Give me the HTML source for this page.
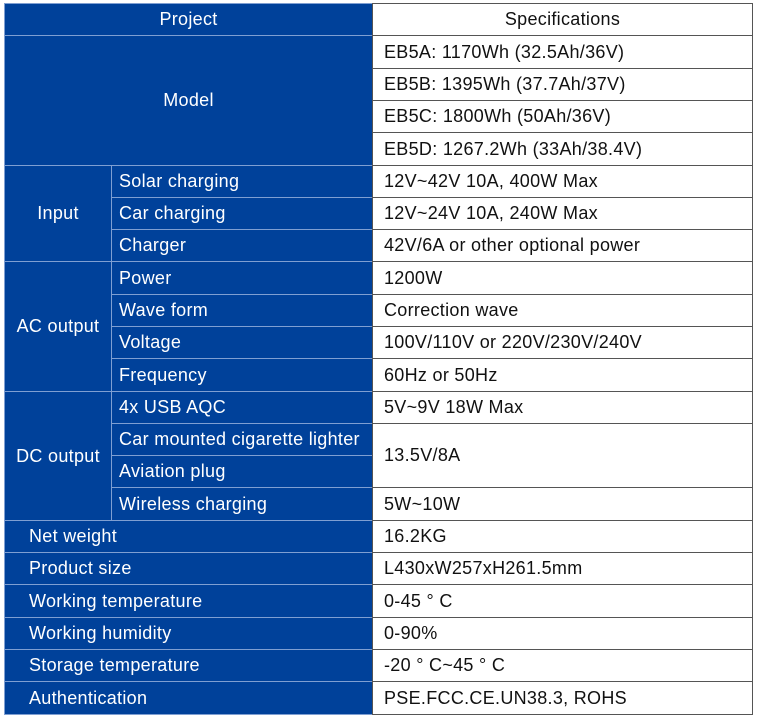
<!DOCTYPE html><html><head><style>
body{margin:0;width:757px;height:719px;background:#fff;position:relative;overflow:hidden;font-family:"Liberation Sans",sans-serif;font-size:18px;letter-spacing:0.3px}
.b{position:absolute;background:#00419a;color:#fff;box-sizing:border-box;border:1px solid #7f9fd2;display:flex;align-items:center}
.w{position:absolute;background:#fff;color:#111;box-sizing:border-box;border:1px solid #555;display:flex;align-items:center;padding-left:11px}
.c{justify-content:center;padding:0}
.l{padding-left:7px}
</style></head><body>
<div id="r"></div>
<script>
var h=32.3,t=3;
function y(i){return Math.round(t+i*h);}
var s='';
function B(x,w,i,n,txt,cls){s+='<div class="b '+cls+'" style="left:'+x+'px;width:'+w+'px;top:'+y(i)+'px;height:'+(y(i+n)-y(i)+1)+'px">'+txt+'</div>';}
function W(i,n,txt,cls){s+='<div class="w '+(cls||'')+'" style="left:372px;width:381px;top:'+y(i)+'px;height:'+(y(i+n)-y(i)+1)+'px">'+txt+'</div>';}
B(4,369,0,1,'Project','c');W(0,1,'Specifications','c');
B(4,369,1,4,'Model','c');
['EB5A: 1170Wh (32.5Ah/36V)','EB5B: 1395Wh (37.7Ah/37V)','EB5C: 1800Wh (50Ah/36V)','EB5D: 1267.2Wh (33Ah/38.4V)'].forEach(function(v,k){W(1+k,1,v);});
B(4,108,5,3,'Input','c');
var sub=[['Solar charging','12V~42V 10A, 400W Max'],['Car charging','12V~24V 10A, 240W Max'],['Charger','42V/6A or other optional power']];
sub.forEach(function(v,k){B(111,262,5+k,1,v[0],'l');W(5+k,1,v[1]);});
B(4,108,8,4,'AC output','c');
[['Power','1200W'],['Wave form','Correction wave'],['Voltage','100V/110V or 220V/230V/240V'],['Frequency','60Hz or 50Hz']].forEach(function(v,k){B(111,262,8+k,1,v[0],'l');W(8+k,1,v[1]);});
B(4,108,12,4,'DC output','c');
['4x USB AQC','Car mounted cigarette lighter','Aviation plug','Wireless charging'].forEach(function(v,k){B(111,262,12+k,1,v,'l');});
W(12,1,'5V~9V 18W Max');W(13,2,'13.5V/8A');W(15,1,'5W~10W');
[['Net weight','16.2KG'],['Product size','L430xW257xH261.5mm'],['Working temperature','0-45 ° C'],['Working humidity','0-90%'],['Storage temperature','-20 ° C~45 ° C'],['Authentication','PSE.FCC.CE.UN38.3, ROHS']].forEach(function(v,k){B(4,369,16+k,1,'<span style="padding-left:24px">'+v[0]+'</span>','');W(16+k,1,v[1]);});
document.getElementById('r').innerHTML=s;
</script>
</body></html>
